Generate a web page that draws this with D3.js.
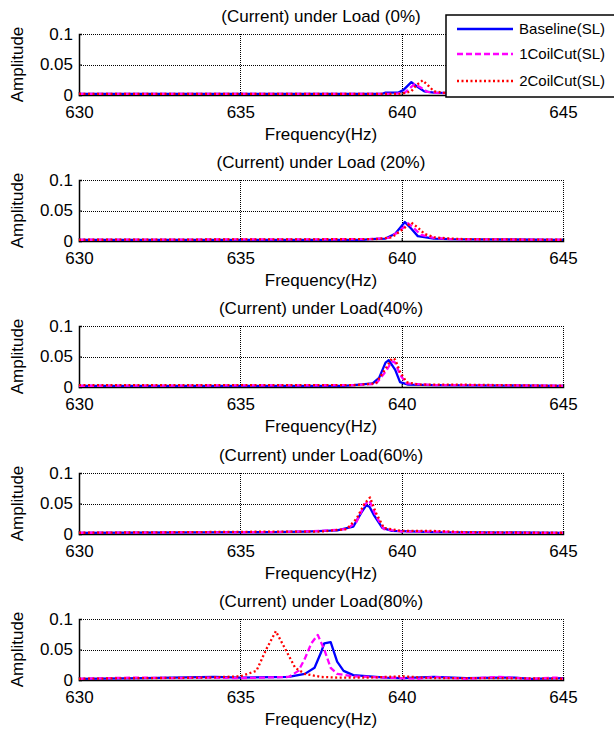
<!DOCTYPE html>
<html>
<head>
<meta charset="utf-8">
<script src="https://cdn.jsdelivr.net/npm/d3@7"></script>
<style>
  body { margin: 0; background: #fff; }
  svg { display: block; }
  text { font-family: "Liberation Sans", Arial, sans-serif; fill: #000; }
</style>
</head>
<body>
<div id="chart"></div>
<script>
// panel titles
const titles = [
  "(Current) under Load (0%)",
  "(Current) under Load (20%)",
  "(Current) under Load(40%)",
  "(Current) under Load(60%)",
  "(Current) under Load(80%)"
];
const seriesNames = ["Baseline(SL)", "1CoilCut(SL)", "2CoilCut(SL)"];
const xTicks = [630, 635, 640, 645];
const yTicks = [0, 0.05, 0.1];
const yTickLabels = ["0", "0.05", "0.1"];

// [frequency Hz, amplitude]
const base0 = [[630,.002],[639.4,.002],[639.5,.004],[639.9,.004],[640.05,.008],[640.3,.021],[640.5,.013],[640.7,.006],[641,.004],[642,.003],[645,.002]];
const coil1_0 = [[630,.002],[639.8,.002],[640.1,.004],[640.4,.018],[640.6,.012],[640.8,.005],[641.2,.003],[645,.002]];
const coil2_0 = [[630,.002],[640,.002],[640.3,.006],[640.45,.016],[640.65,.024],[640.85,.014],[641,.006],[641.4,.003],[645,.002]];

const base1 = [[630,.002],[638.8,.002],[639,.003],[639.5,.004],[639.8,.012],[640.1,.031],[640.3,.02],[640.5,.008],[641,.004],[641.5,.003],[645,.002]];
const coil1_1 = [[630,.002],[639,.003],[639.6,.005],[639.9,.015],[640.2,.029],[640.4,.02],[640.6,.01],[641,.005],[641.5,.003],[645,.002]];
const coil2_1 = [[630,.002],[639.2,.003],[639.7,.006],[640,.018],[640.3,.03],[640.5,.022],[640.7,.012],[641,.006],[641.5,.004],[642,.003],[645,.002]];

const base2 = [[630,.002],[638.2,.002],[638.7,.004],[639.1,.006],[639.3,.015],[639.5,.04],[639.6,.044],[639.8,.028],[639.95,.008],[640.2,.004],[641,.003],[645,.002]];
const coil1_2 = [[630,.002],[638.5,.003],[639.2,.005],[639.5,.025],[639.7,.042],[639.8,.04],[639.95,.02],[640.15,.006],[641,.003],[642,.003],[645,.002]];
const coil2_2 = [[630,.003],[638.5,.003],[639.2,.006],[639.5,.03],[639.7,.047],[639.8,.045],[639.95,.025],[640.15,.008],[640.5,.004],[641.5,.004],[645,.002]];

const base3 = [[630,.002],[636,.003],[637,.004],[638,.006],[638.5,.012],[638.75,.035],[638.9,.047],[639.0,.045],[639.15,.03],[639.4,.01],[639.7,.005],[640.5,.004],[641,.003],[645,.002]];
const coil1_3 = [[630,.002],[636,.003],[637.5,.005],[638.3,.008],[638.6,.02],[638.85,.048],[639,.055],[639.2,.03],[639.45,.008],[640,.004],[641.2,.004],[642,.002],[645,.002]];
const coil2_3 = [[630,.002],[636.5,.004],[637.5,.004],[638.3,.008],[638.6,.025],[638.85,.05],[639.02,.06],[639.2,.035],[639.45,.01],[640,.005],[641,.005],[642,.003],[645,.002]];

const base4 = [[630,.002],[632,.003],[634.2,.005],[635,.004],[636.5,.005],[637,.01],[637.3,.02],[637.5,.045],[637.6,.06],[637.8,.062],[638,.03],[638.2,.015],[638.5,.008],[639,.006],[639.5,.004],[640,.003],[641,.005],[642,.003],[643,.004],[643.5,.004],[644,.002],[645,.003]];
const coil1_4 = [[630,.002],[631.8,.004],[633,.003],[634,.004],[635,.003],[636.5,.005],[636.8,.015],[637,.035],[637.2,.06],[637.4,.074],[637.6,.05],[637.8,.02],[638,.01],[638.5,.006],[639.5,.004],[640.5,.002],[641,.005],[642,.002],[643,.005],[644,.002],[644.8,.004],[645,.002]];
const coil2_4 = [[630,.002],[632,.003],[634,.004],[635,.006],[635.5,.015],[635.8,.05],[636.1,.08],[636.4,.05],[636.7,.02],[637,.01],[637.5,.005],[638,.004],[639,.004],[640,.006],[641,.003],[643,.003],[645,.002]];

const panels = [
  [base0, coil1_0, coil2_0],
  [base1, coil1_1, coil2_1],
  [base2, coil1_2, coil2_2],
  [base3, coil1_3, coil2_3],
  [base4, coil1_4, coil2_4]
];

const styles = [
  {color: "#0000ff", dash: null},
  {color: "#ff00ff", dash: "6,3"},
  {color: "#ff0000", dash: "2,2.5"}
];

const W = 614, H = 731;
const left = 79, right = 563;
const top0 = 34, step = 146.2, ph = 61;

const svg = d3.select("#chart").append("svg")
  .attr("width", W)
  .attr("height", H);

const xScale = d3.scaleLinear().domain([630, 645]).range([left, right]);

panels.forEach((series, i) => {
  const top = Math.round(top0 + i * step);
  const yScale = d3.scaleLinear().domain([0, 0.1]).range([top + ph, top]);
  const g = svg.append("g").attr("class", "panel");

  // grid (dotted)
  g.selectAll(".vgrid")
    .data([635, 640, 645])
    .enter().append("line")
    .attr("x1", d => Math.round(xScale(d)) + 0.5).attr("x2", d => Math.round(xScale(d)) + 0.5)
    .attr("y1", top).attr("y2", top + ph)
    .attr("stroke", "#000").attr("stroke-width", 1)
    .attr("shape-rendering", "crispEdges")
    .attr("stroke-dasharray", "1,1");
  g.selectAll(".hgrid")
    .data([0.05, 0.1])
    .enter().append("line")
    .attr("x1", left).attr("x2", right)
    .attr("y1", d => Math.round(yScale(d)) + 0.5).attr("y2", d => Math.round(yScale(d)) + 0.5)
    .attr("stroke", "#000").attr("stroke-width", 1)
    .attr("shape-rendering", "crispEdges")
    .attr("stroke-dasharray", "1,1");

  // axes
  const xAxis = d3.axisBottom(xScale).tickValues(xTicks).tickSize(-3).tickPadding(8)
    .tickFormat(d3.format("d"));
  const yAxis = d3.axisLeft(yScale).tickValues(yTicks).tickSize(-3).tickPadding(6)
    .tickFormat((d, k) => yTickLabels[k]);

  const gx = g.append("g")
    .attr("transform", "translate(0," + (top + ph) + ")")
    .call(xAxis);
  const gy = g.append("g")
    .attr("transform", "translate(" + left + ",0)")
    .call(yAxis);
  [gx, gy].forEach(a => {
    a.select(".domain").attr("stroke", "#000").attr("stroke-width", 1.5);
    a.selectAll(".tick line").attr("stroke", "#000");
    a.selectAll("text").style("font-size", "17px").style("font-family", "Liberation Sans, Arial, sans-serif").attr("fill", "#000");
  });
  gx.selectAll("text").attr("dy", "0.9em");

  // series
  const line = d3.line()
    .x(d => xScale(d[0]))
    .y(d => yScale(d[1]));
  series.forEach((s, k) => {
    g.append("path")
      .datum(s)
      .attr("fill", "none")
      .attr("stroke", styles[k].color)
      .attr("stroke-width", 2.3)
      .attr("stroke-linejoin", "round")
      .attr("stroke-dasharray", styles[k].dash)
      .attr("d", line);
  });

  // title and labels
  g.append("text")
    .attr("x", (left + right) / 2)
    .attr("y", top - 12)
    .attr("text-anchor", "middle")
    .style("font-size", "17px")
    .text(titles[i]);
  g.append("text")
    .attr("x", (left + right) / 2)
    .attr("y", top + ph + 45)
    .attr("text-anchor", "middle")
    .style("font-size", "17px")
    .text("Frequency(Hz)");
  g.append("text")
    .attr("transform", "translate(23," + (top + ph / 2) + ") rotate(-90)")
    .attr("text-anchor", "middle")
    .style("font-size", "17px")
    .text("Amplitude");
});

// legend on the first panel
const lg = svg.append("g").attr("class", "legend");
lg.append("rect")
  .attr("x", 446).attr("y", 15)
  .attr("width", 180).attr("height", 82)
  .attr("fill", "#fff").attr("stroke", "#000").attr("stroke-width", 1.5);
const legY = [29, 54, 81];
seriesNames.forEach((name, k) => {
  lg.append("line")
    .attr("x1", 457).attr("x2", 513)
    .attr("y1", legY[k]).attr("y2", legY[k])
    .attr("stroke", styles[k].color)
    .attr("stroke-width", 2.3)
    .attr("stroke-dasharray", styles[k].dash);
  lg.append("text")
    .attr("x", 605).attr("y", legY[k])
    .attr("dy", "0.35em")
    .attr("text-anchor", "end")
    .style("font-size", "15px")
    .text(name);
});
</script>
</body>
</html>
